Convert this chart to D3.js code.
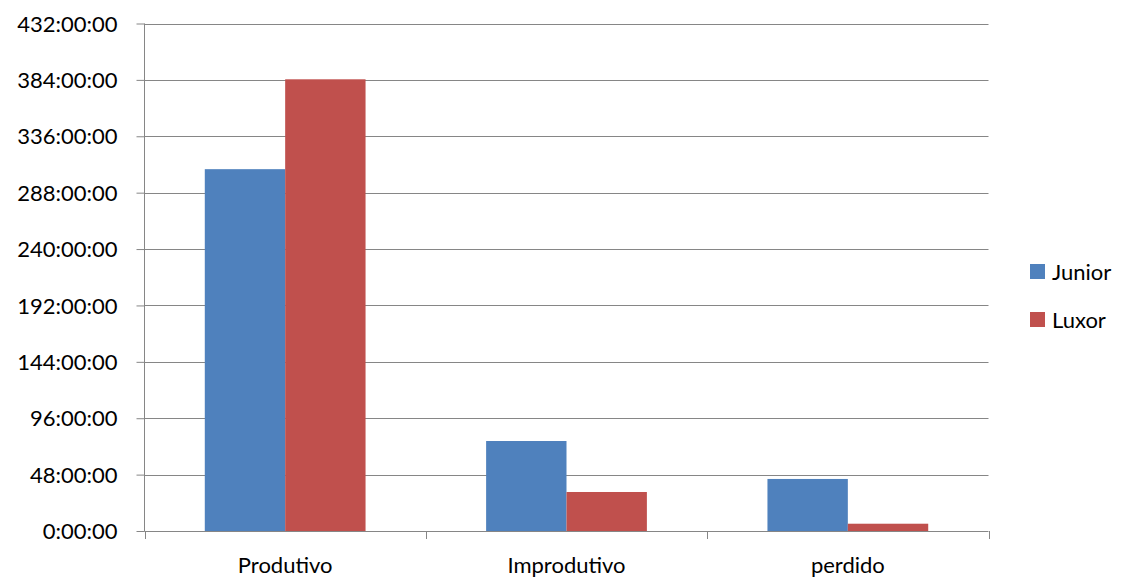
<!DOCTYPE html>
<html>
<head>
<meta charset="utf-8">
<script src="https://cdn.jsdelivr.net/npm/d3@7"></script>
<style>
  html, body { margin: 0; padding: 0; background: #fff; }
  svg { display: block; }
  text { font-family: Lato, "Open Sans", sans-serif; fill: #000; }
</style>
</head>
<body>
<svg id="chart" width="1121" height="577"></svg>
<script>
// Durations in hours
const categories = ["Produtivo", "Improdutivo", "perdido"];
const seriesNames = ["Junior", "Luxor"];
const juniorHours = [308, 76.6, 44.3];
const luxorHours = [384.5, 33.2, 6.2];
const tickHours = [0, 48, 96, 144, 192, 240, 288, 336, 384, 432];
const colors = ["#4F81BD", "#C0504D"];

const seriesValues = [juniorHours, luxorHours];
const FONT = "22px";

const svg = d3.select("#chart");
const plot = { left: 144.5, right: 988.5, top: 23.5, bottom: 531 };

const y = d3.scaleLinear().domain([0, 432]).range([plot.bottom, plot.top]);
const x = d3.scaleBand().domain(categories).range([plot.left, plot.right]);
const xInner = d3.scaleBand().domain(seriesNames)
  .range([0, x.bandwidth()]).paddingOuter(0.75).paddingInner(0);

const fmt = h => `${h}:00:00`;

// horizontal gridlines
svg.append("g")
  .selectAll("line")
  .data(tickHours.slice(1))
  .join("line")
  .attr("x1", plot.left).attr("x2", plot.right)
  .attr("y1", d => Math.round(y(d)) + 0.5).attr("y2", d => Math.round(y(d)) + 0.5)
  .attr("stroke", "#868686").attr("stroke-width", 1);

// bars
const groups = svg.append("g")
  .selectAll("g")
  .data(categories)
  .join("g")
  .attr("transform", d => `translate(${x(d)},0)`);

groups.selectAll("rect")
  .data((c, i) => seriesNames.map((s, j) => ({ s, v: seriesValues[j][i], j })))
  .join("rect")
  .attr("x", d => xInner(d.s))
  .attr("width", xInner.bandwidth())
  .attr("y", d => y(d.v))
  .attr("height", d => y(0) - y(d.v))
  .attr("fill", d => colors[d.j]);

// y axis
const yAxis = d3.axisLeft(y).tickValues(tickHours).tickFormat(fmt).tickSize(8).tickPadding(19);
const gy = svg.append("g")
  .attr("transform", `translate(${plot.left},0)`)
  .call(yAxis);
gy.select(".domain").attr("stroke", "#868686").attr("d", `M0,${plot.top}V${plot.bottom + 0.5}`);
gy.selectAll(".tick line").attr("stroke", "#868686");
gy.selectAll(".tick text").style("font-size", FONT).style("font-family", "Lato, sans-serif").attr("dy", "0.35em");

// x axis
const xAxis = d3.axisBottom(x).tickSize(0).tickPadding(26);
const gx = svg.append("g")
  .attr("transform", `translate(0,${plot.bottom})`)
  .call(xAxis);
gx.select(".domain").attr("stroke", "#868686").attr("d", `M${plot.left},0.5H${plot.right}`);
gx.selectAll(".tick text").style("font-size", FONT).style("font-family", "Lato, sans-serif");

// category separators
const bounds = [plot.left, ...categories.map(c => x(c) + x.bandwidth())];
svg.append("g")
  .selectAll("line")
  .data(bounds)
  .join("line")
  .attr("x1", d => Math.round(d) + 0.5).attr("x2", d => Math.round(d) + 0.5)
  .attr("y1", plot.bottom).attr("y2", plot.bottom + 8)
  .attr("stroke", "#868686");

// legend
const legend = svg.append("g")
  .selectAll("g")
  .data(seriesNames)
  .join("g")
  .attr("transform", (d, i) => `translate(1030,${264 + i * 48})`);
legend.append("rect").attr("width", 15).attr("height", 15).attr("fill", (d, i) => colors[i]);
legend.append("text").attr("x", 22).attr("y", 8).attr("dy", "0.35em")
  .style("font-size", FONT).text(d => d);
</script>
</body>
</html>
